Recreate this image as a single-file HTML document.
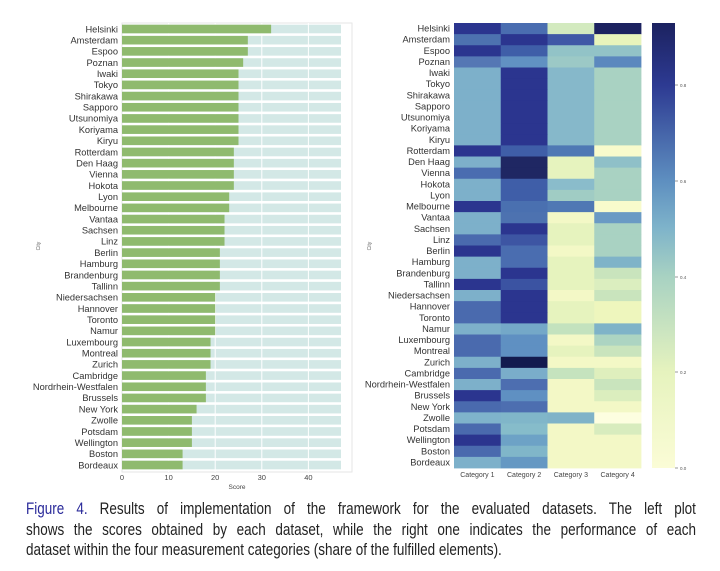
<!DOCTYPE html>
<html><head><meta charset="utf-8"><style>
html,body{margin:0;padding:0;background:#fff;width:720px;height:571px;overflow:hidden}
.cap{position:absolute;left:26px;top:499px;width:820px;transform:scaleX(0.817);transform-origin:0 0;font-family:"Liberation Sans",sans-serif;font-size:16.5px;line-height:20.5px;color:#222}
.cap div{text-align:justify;text-align-last:justify;white-space:nowrap}
.cap div.l{text-align-last:left}
.cap b{color:#2a2a9a;font-weight:normal}
</style></head><body>
<svg id="s" width="720" height="500" style="position:absolute;left:0;top:0" font-family="Liberation Sans, sans-serif"></svg>
<div class="cap"><div><b>Figure 4.</b> Results of implementation of the framework for the evaluated datasets. The left plot</div><div>shows the scores obtained by each dataset, while the right one indicates the performance of each</div><div class="l">dataset within the four measurement categories (share of the fulfilled elements).</div></div>
<script>
const cities=["Helsinki","Amsterdam","Espoo","Poznan","Iwaki","Tokyo","Shirakawa","Sapporo","Utsunomiya","Koriyama","Kiryu","Rotterdam","Den Haag","Vienna","Hokota","Lyon","Melbourne","Vantaa","Sachsen","Linz","Berlin","Hamburg","Brandenburg","Tallinn","Niedersachsen","Hannover","Toronto","Namur","Luxembourg","Montreal","Zurich","Cambridge","Nordrhein-Westfalen","Brussels","New York","Zwolle","Potsdam","Wellington","Boston","Bordeaux"];
const sc=[32,27,27,26,25,25,25,25,25,25,25,24,24,24,24,23,23,22,22,22,21,21,21,21,20,20,20,20,19,19,19,18,18,18,16,15,15,15,13,13];
const D1="#2b358f",D2="#4a6aae",D3="#5f90c2",L1="#7db0ca",L2="#92c3c7",L3="#a9d2c2",L4="#d3eabf",L5="#e6f3be",L6="#f3f8c6";
const hm=[
[D1,"#4a6db0",L4,"#1c2260"],["#4d72b0",D1,"#3f58a6","#e8f4bb"],[D1,"#3f5ea8",L2,L2],["#5577b4","#6191c2","#9cc9c6","#5b88be"],
[L1,D1,"#86b8ca",L3],[L1,D1,"#86b8ca",L3],[L1,D1,"#86b8ca",L3],[L1,D1,"#86b8ca",L3],[L1,D1,"#86b8ca",L3],[L1,D1,"#86b8ca",L3],[L1,D1,"#86b8ca",L3],
[D1,"#3f5ea8","#4f78b4","#f8fbcc"],[L1,"#1f2763",L5,"#8fc0c8"],["#4a6db0","#1f2763",L5,L3],[L1,"#3f5ea8","#8abccb",L3],[L1,"#3f5ea8","#a0ccc4",L3],
[D1,"#4a70b0","#4f78b4","#f8fbcc"],[L1,"#4d72b0",L6,"#6a9ac4"],[L1,D1,L5,L3],["#4a6aae","#3d55a3",L5,L3],[D1,"#4a6db0",L6,L3],
[L1,"#4a6db0",L5,"#7fb3c8"],[L1,D1,L5,"#c9e4bd"],[D1,"#3b53a2",L5,"#dbeebf"],[L1,D1,L6,"#c9e4bd"],[D2,D1,L5,"#eef6bd"],[D2,D1,L5,"#eef6bd"],
[L1,"#74a8c8","#c3e2be","#7fb3c8"],[D2,D3,L6,"#acd4c2"],[D2,D3,L5,"#c9e4bd"],[L1,"#131a4e",L6,L6],[D2,"#7aadca","#c5e3be","#dfefbd"],
[L1,"#4d6eb0",L6,"#c9e4bd"],[D1,D3,L6,"#dbeebe"],[D2,"#4d6eb0",L6,L6],["#7fb3cb","#80b6c9","#7fb3c8","#fdfee0"],[D2,"#86bcca",L6,"#d8ecbe"],
[D1,"#6da2c6",L6,L6],[D2,"#80b6c9",L6,L6],[L1,"#6598c3",L6,L6]];
let h='';
h+='<rect x="122" y="23" width="230" height="449" fill="#fff" stroke="#e6e6e6"/>';
for(let i=0;i<40;i++){const y=29+i*11.18;
h+=`<rect x="122" y="${y-4.3}" width="219" height="8.6" fill="#d3e8e6"/>`;}
for(let k=1;k<5;k++){const x=122+k*46.6;h+=`<line x1="${x}" y1="23" x2="${x}" y2="472" stroke="#fff" stroke-width="1"/>`;}
for(let i=0;i<40;i++){const y=29+i*11.18;
h+=`<rect x="122" y="${y-4.3}" width="${sc[i]*4.66}" height="8.6" fill="#8fba6e"/>`;
h+=`<text x="118" y="${y+3.3}" font-size="9.3" text-anchor="end" fill="#333">${cities[i]}</text>`;}
for(let k=0;k<5;k++){const x=122+k*46.6;h+=`<text x="${x}" y="480" font-size="7.5" text-anchor="middle" fill="#444">${k*10}</text>`;}
h+='<text x="237" y="489" font-size="6.5" text-anchor="middle" fill="#444">Score</text>';
h+='<text transform="translate(40,246) rotate(-90)" font-size="5" text-anchor="middle" fill="#666">City</text>';
const cw=46.75,rh=11.125;
for(let i=0;i<40;i++){const y=23+i*rh;
for(let j=0;j<4;j++)h+=`<rect x="${454+j*cw}" y="${y}" width="${cw+0.4}" height="${rh+0.4}" fill="${hm[i][j]}"/>`;
h+=`<text x="450" y="${y+8.5}" font-size="9.3" text-anchor="end" fill="#333">${cities[i]}</text>`;}
for(let j=0;j<4;j++)h+=`<text x="${454+j*cw+cw/2}" y="477" font-size="7" text-anchor="middle" fill="#444">Category ${j+1}</text>`;
h+='<text transform="translate(371,246) rotate(-90)" font-size="5" text-anchor="middle" fill="#666">City</text>';
h+='<defs><linearGradient id="g" x1="0" y1="1" x2="0" y2="0"><stop offset="0" stop-color="#fbfcd6"/><stop offset="0.215" stop-color="#e6f3be"/><stop offset="0.43" stop-color="#a8d2c2"/><stop offset="0.54" stop-color="#7eb3ca"/><stop offset="0.645" stop-color="#5e8fc0"/><stop offset="0.86" stop-color="#2d3a92"/><stop offset="1" stop-color="#1c2260"/></linearGradient></defs>';
h+='<rect x="652" y="23" width="23" height="445" fill="url(#g)"/>';
[[0,468],[0.2,372],[0.4,277],[0.6,181],[0.8,85]].forEach(([v,y])=>{h+=`<line x1="675" y1="${y}" x2="678" y2="${y}" stroke="#555" stroke-width="0.6"/><text x="680" y="${y+1.8}" font-size="4.5" fill="#555">${v.toFixed(1)}</text>`;});
document.getElementById('s').innerHTML=h;
</script>
</body></html>
